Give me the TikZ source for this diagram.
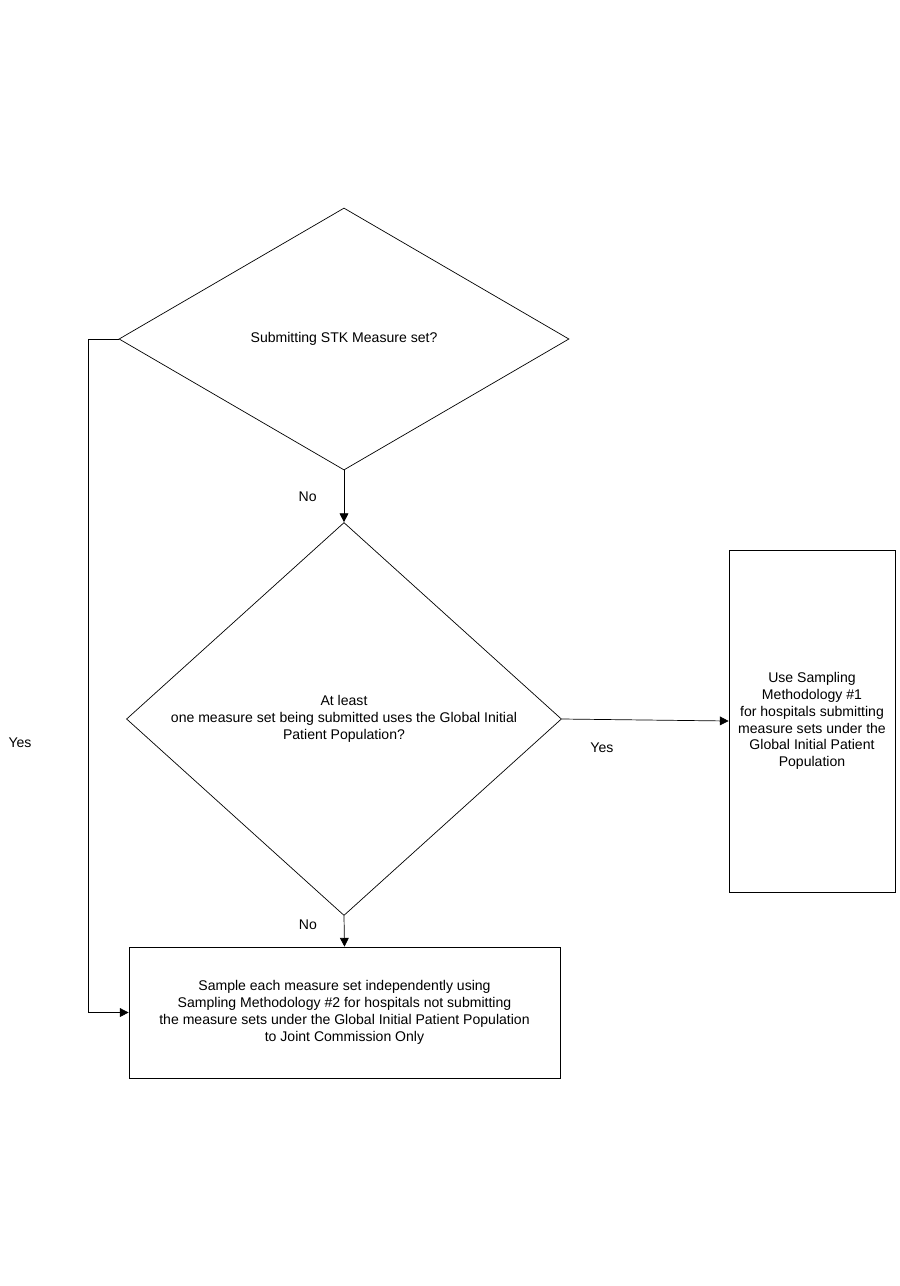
\documentclass[tikz,border=0pt]{standalone}
\usepackage{fontspec}
\setmainfont{Liberation Sans}
\usetikzlibrary{shapes.geometric,arrows.meta}
\tikzset{
	decision/.style={diamond, draw=black, inner sep=0pt, align=center},
	process/.style={rectangle, draw=black, inner sep=0pt, align=center},
	flow/.style={draw=black, -{Triangle[length=5pt,width=5pt]}},
	lbl/.style={font=\fontsize{8}{10}\selectfont}
}
\begin{document}
\begin{tikzpicture}[x=0.02cm, y=-0.02cm, every node/.style={font=\fontsize{8}{9.6}\selectfont}]
	\useasboundingbox (0,0) rectangle (900,1286);
	
	\node[decision, minimum width=450*0.02cm, minimum height=262*0.02cm] (stk) at (344,339) {Submitting STK Measure set?};
	\node[decision, minimum width=435*0.02cm, minimum height=280*0.02cm] (gipp) at (344,719) {At least\\one measure set being submitted uses the Global Initial\\Patient Population?};
	\node[process, minimum width=166*0.02cm, minimum height=342*0.02cm] (meth1) at (812,721) {Use Sampling\\Methodology \#1\\for hospitals submitting\\measure sets under the\\Global Initial Patient\\Population};
	\node[process, minimum width=431*0.02cm, minimum height=131*0.02cm] (meth2) at (344.5,1012.5) {Sample each measure set independently using\\Sampling Methodology \#2 for hospitals not submitting\\the measure sets under the Global Initial Patient Population\\to Joint Commission Only};
	\coordinate (bend) at (88,339);
	
	\draw[flow] (stk.south) -- node[pos=0.5, left=12pt] {No} (gipp.north);
	\draw[flow] (gipp.south) -- node[pos=0.3, left=12pt] {No} (meth2.north);
	\draw[flow] (gipp.east) -- node[pos=0.24, below=10pt] {Yes} (meth1.west);
	\draw[flow] (stk.west) -- (bend) |- (meth2.west);
	\node at (20,743) {Yes};
\end{tikzpicture}
\end{document}
